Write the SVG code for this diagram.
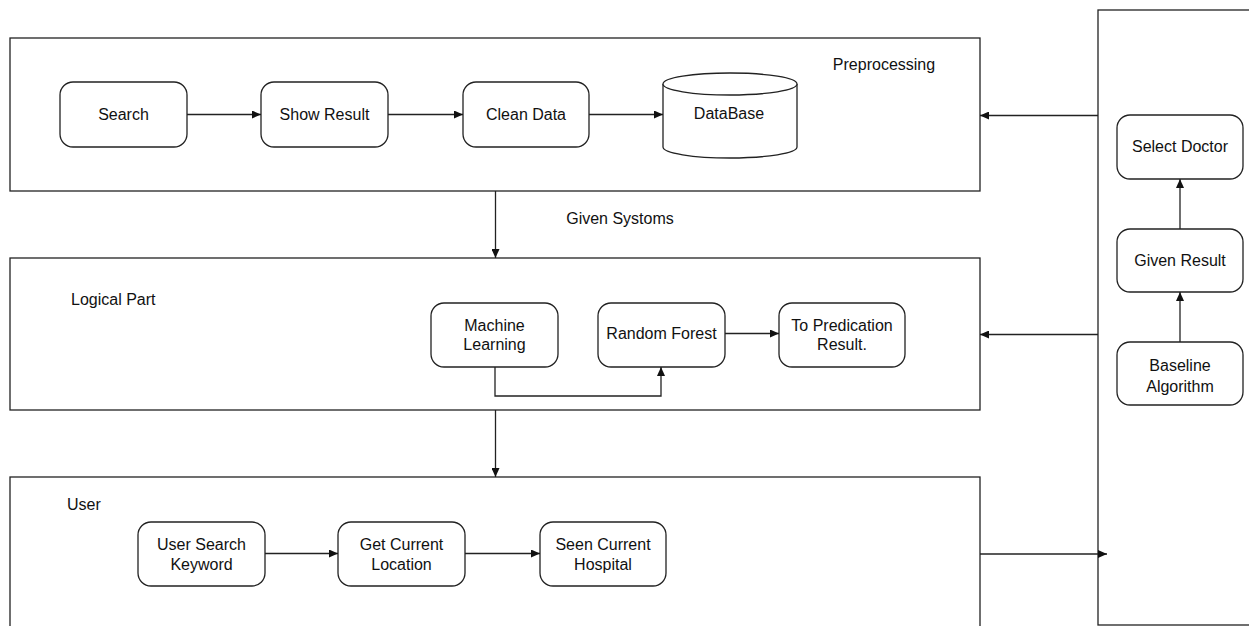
<svg xmlns="http://www.w3.org/2000/svg" width="1249" height="626" viewBox="0 0 1249 626">
<defs>
<marker id="arr" markerWidth="9" markerHeight="8" refX="9" refY="4" orient="auto" markerUnits="userSpaceOnUse">
<path d="M0,0 L9,4 L0,8 Z" fill="#111"/>
</marker>
<style>
.box{fill:#fff;stroke:#222;stroke-width:1.3}
.node{fill:#fff;stroke:#222;stroke-width:1.3}
.c{fill:none;stroke:#222;stroke-width:1.3;marker-end:url(#arr)}
text{font-family:"Liberation Sans",Arial,sans-serif;font-size:16px;fill:#111}
.m{text-anchor:middle}
</style>
</defs>
<rect width="1249" height="626" fill="#fff"/>

<g id="right-panel">
<rect class="box" x="1098" y="10" width="170" height="615"/>
</g>
<g id="preprocessing">
<rect class="box" x="10" y="38" width="970" height="153"/>
<text x="884" y="70" class="m">Preprocessing</text>
</g>
<g id="logical-part">
<rect class="box" x="10" y="258" width="970" height="152"/>
<text x="71" y="305">Logical Part</text>
</g>
<g id="user">
<rect class="box" x="10" y="477" width="970" height="160"/>
<text x="67" y="510">User</text>
</g>

<g id="search">
<rect class="node" x="60" y="82" width="127" height="65" rx="13"/>
<text x="123.5" y="120" class="m">Search</text>
</g>
<g id="show-result">
<rect class="node" x="261" y="82" width="127" height="65" rx="13"/>
<text x="324.5" y="120" class="m">Show Result</text>
</g>
<g id="clean-data">
<rect class="node" x="463" y="82" width="126" height="65" rx="13"/>
<text x="526" y="120" class="m">Clean Data</text>
</g>
<g id="database">
<path class="node" d="M663,84 V147 A67,11 0 0 0 797,147 V84"/>
<ellipse class="node" cx="730" cy="84" rx="67" ry="11"/>
<text x="729" y="119" class="m">DataBase</text>
</g>

<g id="machine-learning">
<rect class="node" x="431" y="303" width="127" height="64" rx="13"/>
<text x="494.5" y="331" class="m">Machine</text>
<text x="494.5" y="350" class="m">Learning</text>
</g>
<g id="random-forest">
<rect class="node" x="598" y="303" width="127" height="64" rx="13"/>
<text x="661.5" y="339" class="m">Random Forest</text>
</g>
<g id="to-predication">
<rect class="node" x="779" y="303" width="126" height="64" rx="13"/>
<text x="842" y="331" class="m">To Predication</text>
<text x="842" y="350" class="m">Result.</text>
</g>

<g id="user-search-keyword">
<rect class="node" x="138" y="522" width="127" height="64" rx="13"/>
<text x="201.5" y="550" class="m">User Search</text>
<text x="201.5" y="570" class="m">Keyword</text>
</g>
<g id="get-current-location">
<rect class="node" x="338" y="522" width="127" height="64" rx="13"/>
<text x="401.5" y="550" class="m">Get Current</text>
<text x="401.5" y="570" class="m">Location</text>
</g>
<g id="seen-current-hospital">
<rect class="node" x="540" y="522" width="126" height="64" rx="13"/>
<text x="603" y="550" class="m">Seen Current</text>
<text x="603" y="570" class="m">Hospital</text>
</g>

<g id="select-doctor">
<rect class="node" x="1117" y="115" width="126" height="64" rx="13"/>
<text x="1180" y="152" class="m">Select Doctor</text>
</g>
<g id="given-result">
<rect class="node" x="1117" y="229" width="126" height="63" rx="13"/>
<text x="1180" y="266" class="m">Given Result</text>
</g>
<g id="baseline-algorithm">
<rect class="node" x="1117" y="342" width="126" height="63" rx="13"/>
<text x="1180" y="371" class="m">Baseline</text>
<text x="1180" y="392" class="m">Algorithm</text>
</g>

<g id="connectors">
<path class="c" d="M187,114.5 H261"/>
<path class="c" d="M388,114.5 H463"/>
<path class="c" d="M589,114.5 H663"/>
<path class="c" d="M1098,115.5 H980"/>
<path class="c" d="M495.5,191 V258"/>
<text x="620" y="224" class="m">Given Systoms</text>
<path class="c" d="M495,367 V396 H661 V367"/>
<path class="c" d="M725,333.5 H779"/>
<path class="c" d="M1098,334.5 H980"/>
<path class="c" d="M495.5,410 V477"/>
<path class="c" d="M265,553.5 H338"/>
<path class="c" d="M465,553.5 H540"/>
<path class="c" d="M980,554 H1107"/>
<path class="c" d="M1180,342 V292"/>
<path class="c" d="M1180,229 V179"/>
</g>
</svg>
